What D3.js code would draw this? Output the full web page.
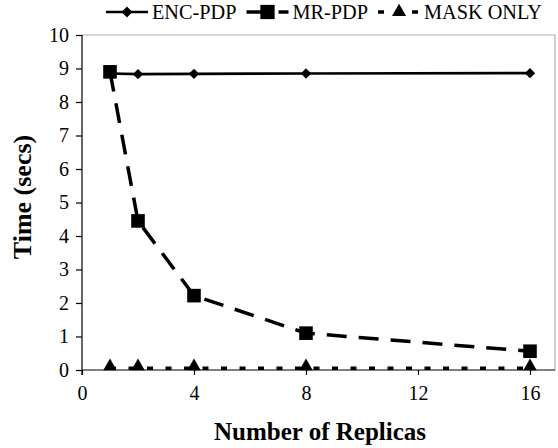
<!DOCTYPE html>
<html><head><meta charset="utf-8">
<script src="https://cdn.jsdelivr.net/npm/d3@7/dist/d3.min.js"></script>
<style>body{margin:0;background:#fff}svg{display:block}</style>
</head><body><svg id="c" width="558" height="448" font-family="Liberation Serif"></svg>
<script>
const replicas = [1, 2, 4, 8, 16];
const encPdp = [8.85, 8.83, 8.84, 8.85, 8.86];
const mrPdp = [8.9, 4.45, 2.22, 1.1, 0.56];
const maskOnly = [0.05, 0.05, 0.05, 0.05, 0.05];
const xTicks = [0, 4, 8, 12, 16];
const yTicks = [0,1,2,3,4,5,6,7,8,9,10];
const seriesNames = ["ENC-PDP", "MR-PDP", "MASK ONLY"];

const FONT = "Liberation Serif";
const svg = d3.select("#c");
const L = 82, T = 35, B = 370, Rframe = 555;
const x = d3.scaleLinear().domain([0, 16]).range([L, 530]);
const y = d3.scaleLinear().domain([0, 10]).range([B, T]);

svg.append("path").attr("d", `M${L},${T}H${Rframe}V${B}`).attr("fill","none").attr("stroke","#b0b0b0").attr("stroke-width",1.2);

const xAxis = svg.append("g").attr("transform", `translate(0,${B})`)
  .call(d3.axisBottom(x).tickValues(xTicks).tickSize(5).tickPadding(11).tickSizeOuter(0));
xAxis.select(".domain").attr("d", `M${L},0H${Rframe}`);
const yAxis = svg.append("g").attr("transform", `translate(${L},0)`)
  .call(d3.axisLeft(y).tickValues(yTicks).tickSize(6).tickPadding(7).tickSizeOuter(0));
[xAxis, yAxis].forEach(g => {
  g.attr("font-family", FONT).attr("font-size", 20);
  g.selectAll("text").attr("font-family", FONT).attr("font-size", 20).attr("fill","#000");
  g.selectAll("line,path").attr("stroke","#000").attr("stroke-width",1.2);
});
yAxis.select(".domain").attr("d", `M0,${B+5}V${T}`);

svg.append("text").attr("x", 320).attr("y", 440).attr("text-anchor","middle")
  .attr("font-family", FONT).attr("font-size", 25).attr("font-weight","bold").text("Number of Replicas");
svg.append("text").attr("transform", `translate(31,197) rotate(-90)`).attr("text-anchor","middle")
  .attr("font-family", FONT).attr("font-size", 26).attr("font-weight","bold").text("Time (secs)");

const line = d3.line().x(d => x(d[0])).y(d => y(d[1]));
const styles = [
  {vals: encPdp, dash: null, w: 2.7, sym: d3.symbolDiamond2, size: 68, ldash: null},
  {vals: mrPdp, dash: "20,12", w: 3.5, sym: d3.symbolSquare, size: 185, ldash: "27,5"},
  {vals: maskOnly, dash: "6,12.5", w: 3.5, sym: d3.symbolTriangle, size: 78, ldash: "6,28"}
];
[2, 0, 1].forEach(i => {
  const s = styles[i];
  const pts = replicas.map((r, j) => [r, s.vals[j]]);
  svg.append("path").attr("d", line(pts)).attr("fill","none").attr("stroke","#000")
    .attr("stroke-width", s.w).attr("stroke-dasharray", s.dash);
  svg.selectAll(null).data(pts).enter().append("path")
    .attr("transform", d => `translate(${x(d[0])},${y(d[1]) + (i===2? -2:0)})`)
    .attr("d", d3.symbol().type(s.sym).size(s.size)).attr("fill","#000");
});

// legend, centred over the plot
const lg = svg.append("g");
const ly = 12, segW = 42, gapLT = 4, gapTL = 10, LFS = 20.3;
const items = styles.map((s, i) => {
  const t = lg.append("text").attr("y", ly + 7).attr("font-family", FONT).attr("font-size", LFS).text(seriesNames[i]);
  return {s, t, w: t.node().getComputedTextLength()};
});
const total = d3.sum(items, d => segW + gapLT + d.w) + gapTL * (items.length - 1);
let cx = 324 - total / 2;
items.forEach(({s, t, w}) => {
  lg.append("line").attr("x1", cx).attr("x2", cx + segW).attr("y1", ly).attr("y2", ly)
    .attr("stroke","#000").attr("stroke-width", s.w).attr("stroke-dasharray", s.ldash);
  lg.append("path").attr("transform", `translate(${cx + segW/2},${ly})`)
    .attr("d", d3.symbol().type(s.sym).size(s.size * 1.1)).attr("fill","#000");
  t.attr("x", cx + segW + gapLT);
  cx += segW + gapLT + w + gapTL;
});
</script></body></html>
